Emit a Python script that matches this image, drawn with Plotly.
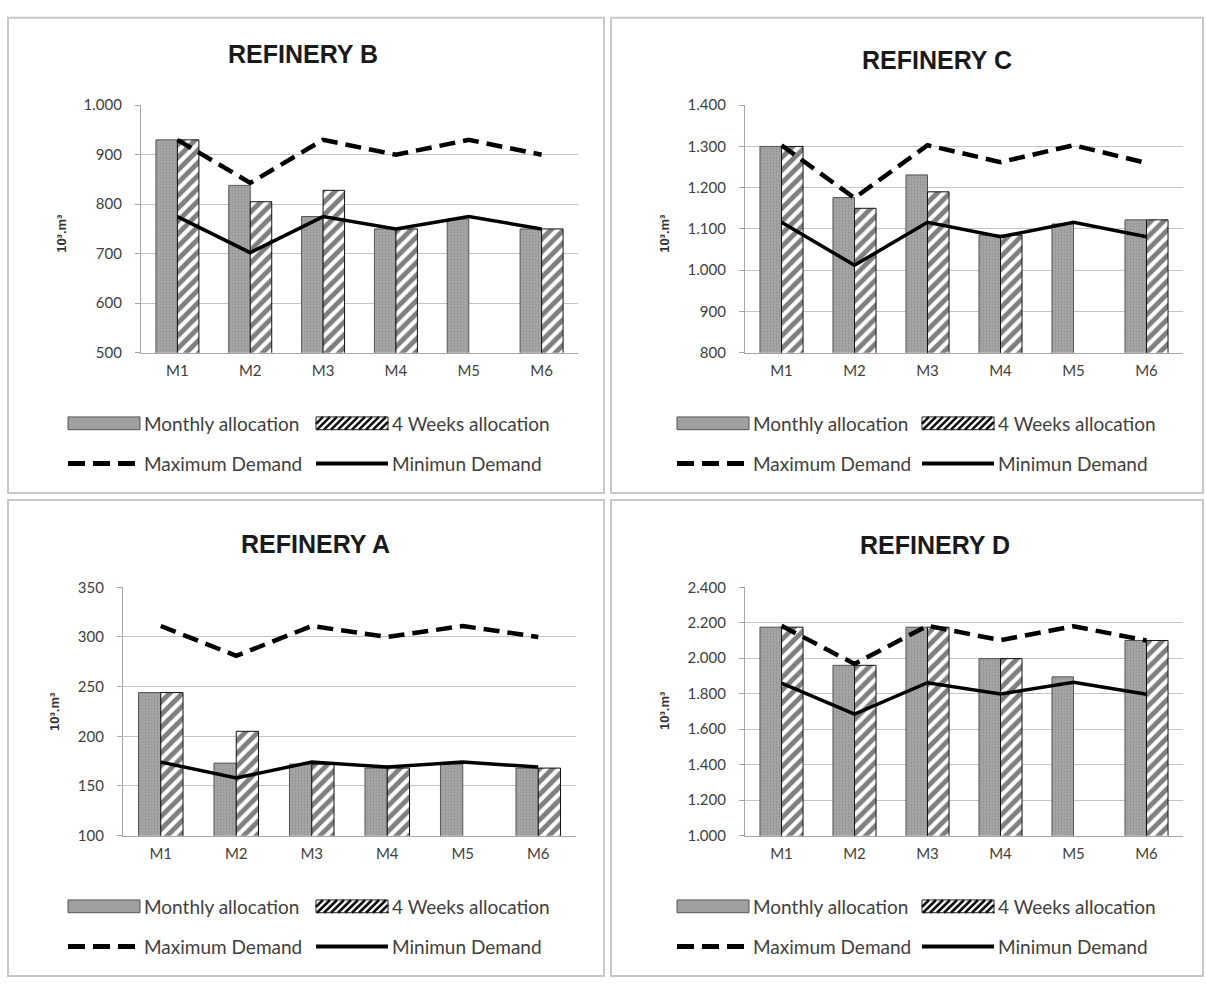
import plotly.graph_objects as go

W, H = 1206, 986

months = ["M1", "M2", "M3", "M4", "M5", "M6"]

titles = ["REFINERY B", "REFINERY C", "REFINERY A", "REFINERY D"]

# Refinery B
b_monthly = [930, 838, 775, 750, 770, 750]
b_weeks = [930, 805, 828, 750, None, 750]
b_max = [930, 843, 930, 900, 930, 900]
b_min = [775, 702, 775, 750, 775, 750]

# Refinery C
c_monthly = [1300, 1176, 1231, 1085, 1112, 1122]
c_weeks = [1300, 1150, 1190, 1085, None, 1122]
c_max = [1303, 1175, 1303, 1262, 1303, 1260]
c_min = [1116, 1012, 1116, 1081, 1116, 1081]

# Refinery A
a_monthly = [244, 173, 172, 168, 172, 168]
a_weeks = [244, 205, 172, 168, None, 168]
a_max = [311, 281, 311, 300, 311, 300]
a_min = [174, 158, 174, 169, 174, 169]

# Refinery D
d_monthly = [2175, 1960, 2175, 1998, 1895, 2100]
d_weeks = [2175, 1960, 2175, 1998, None, 2100]
d_max = [2183, 1968, 2183, 2102, 2180, 2100]
d_min = [1860, 1685, 1862, 1798, 1865, 1797]

y_ranges = [(500, 1000), (800, 1400), (100, 350), (1000, 2400)]
y_steps = [100, 100, 50, 200]

series = [
    (b_monthly, b_weeks, b_max, b_min),
    (c_monthly, c_weeks, c_max, c_min),
    (a_monthly, a_weeks, a_max, a_min),
    (d_monthly, d_weeks, d_max, d_min),
]

legend_names = ["Monthly allocation", "4 Weeks allocation",
                "Maximum Demand", "Minimun Demand"]


def px(x):
    return x / W


def py(y):
    return 1 - y / H


# plot-area boxes in pixels: (left, right, top, bottom)
boxes = [
    (141, 578, 97, 349),
    (745, 1183, 97, 349),
    (123, 576, 588, 841),
    (745, 1183, 588, 841),
]
# outer frame of each panel
frames = [(8, 604, 8, 492), (611, 1203, 8, 492),
          (8, 604, 499, 984), (611, 1203, 499, 984)]
title_pos = [(303, 45), (937, 51), (315, 544), (935, 545)]
ytitle_pos = [(62, 228), (665, 228), (55, 715), (665, 714)]
legend_rows = [(421, 462), (421, 462), (913, 954), (913, 954)]
legend_cols = [(68, 316), (677, 922), (68, 316), (677, 922)]

TICK_FONT = dict(family="Lato, Open Sans, sans-serif", size=15, color="#404040")
GRID = "#c4c4c4"
AXIS = "#a6a6a6"

fig = go.Figure()
shapes = []
annotations = []

for i, (monthly, weeks, dmax, dmin) in enumerate(series):
    n = "" if i == 0 else str(i + 1)
    xa, ya = "x" + n, "y" + n

    fig.add_trace(go.Bar(
        x=months, y=monthly, name=legend_names[0], xaxis=xa, yaxis=ya,
        marker=dict(color="#a0a0a0",
                    line=dict(color="#555555", width=1),
                    pattern=dict(shape=".", fgcolor="#777777",
                                 bgcolor="#a8a8a8", size=3, solidity=0.35)),
        showlegend=False,
    ))
    fig.add_trace(go.Bar(
        x=months, y=weeks, name=legend_names[1], xaxis=xa, yaxis=ya,
        marker=dict(color="white",
                    line=dict(color="#111111", width=1),
                    pattern=dict(shape="/", fgcolor="#000000",
                                 bgcolor="white", size=9, solidity=0.55)),
        showlegend=False,
    ))
    fig.add_trace(go.Scatter(
        x=months, y=dmax, name=legend_names[2], xaxis=xa, yaxis=ya,
        mode="lines", line=dict(color="black", width=4.5, dash="16px,8px"),
        showlegend=False,
    ))
    fig.add_trace(go.Scatter(
        x=months, y=dmin, name=legend_names[3], xaxis=xa, yaxis=ya,
        mode="lines", line=dict(color="black", width=3.5),
        showlegend=False,
    ))

    l, r, t, b = boxes[i]
    lo, hi = y_ranges[i]
    fig.layout["xaxis" + n] = dict(
        domain=[px(l), px(r)], anchor=ya, type="category",
        showgrid=False, showline=True, linecolor=AXIS, linewidth=1.3,
        ticks="", tickfont=TICK_FONT, ticklabelstandoff=4,
        zeroline=False, fixedrange=True,
    )
    fig.layout["yaxis" + n] = dict(
        domain=[py(b), py(t)], anchor=xa, range=[lo, hi],
        tick0=lo, dtick=y_steps[i], tickformat=",d",
        showgrid=True, gridcolor=GRID, gridwidth=1.3,
        showline=True, linecolor=AXIS, linewidth=1.3,
        ticks="outside", ticklen=5, tickcolor=AXIS,
        tickfont=TICK_FONT, ticklabelstandoff=10,
        zeroline=False, fixedrange=True,
    )

    # panel frame
    fl, fr, ft, fb = frames[i]
    shapes.append(dict(type="rect", xref="paper", yref="paper",
                       x0=px(fl), x1=px(fr), y0=py(fb), y1=py(ft),
                       line=dict(color="#c8c8c8", width=2), layer="below"))

    # title
    tx, ty = title_pos[i]
    annotations.append(dict(
        text="<b>%s</b>" % titles[i], xref="paper", yref="paper",
        x=px(tx), y=py(ty), xanchor="center", yanchor="middle",
        showarrow=False,
        font=dict(family="Liberation Sans, Arial, sans-serif", size=25,
                  color="#1a1a1a")))

    # y axis title
    yx, yy = ytitle_pos[i]
    annotations.append(dict(
        text="<b>10³.m³</b>", xref="paper", yref="paper",
        x=px(yx), y=py(yy), xanchor="center", yanchor="middle",
        textangle=-90, showarrow=False,
        font=dict(family="Liberation Sans, Arial, sans-serif", size=13,
                  color="#333333")))

    # legend
    r1, r2 = legend_rows[i]
    c1, c2 = legend_cols[i]
    sw, sh = 72, 13
    legend_font = dict(family="Lato, Open Sans, sans-serif", size=19,
                       color="#404040")

    # monthly allocation swatch
    shapes.append(dict(type="rect", xref="paper", yref="paper",
                       x0=px(c1), x1=px(c1 + sw),
                       y0=py(r1 + sh / 2), y1=py(r1 - sh / 2),
                       fillcolor="#a0a0a0",
                       line=dict(color="#555555", width=1)))
    # 4 weeks allocation swatch (hatched)
    x0s, x1s = c2, c2 + sw
    y_top, y_bot = r1 - sh / 2, r1 + sh / 2
    shapes.append(dict(type="rect", xref="paper", yref="paper",
                       x0=px(x0s), x1=px(x1s), y0=py(y_bot), y1=py(y_top),
                       fillcolor="white",
                       line=dict(color="#222222", width=1)))
    step = 7
    xs = x0s - sh
    while xs < x1s:
        xa0 = max(xs, x0s)
        xb0 = min(xs + sh, x1s)
        if xa0 < xb0:
            shapes.append(dict(
                type="line", xref="paper", yref="paper",
                x0=px(xa0), y0=py(y_bot - (xa0 - xs)),
                x1=px(xb0), y1=py(y_bot - (xb0 - xs)),
                line=dict(color="#111111", width=2.6)))
        xs += step
    # demand line swatches
    shapes.append(dict(type="line", xref="paper", yref="paper",
                       x0=px(c1), x1=px(c1 + sw), y0=py(r2), y1=py(r2),
                       line=dict(color="black", width=5, dash="17px,8px")))
    shapes.append(dict(type="line", xref="paper", yref="paper",
                       x0=px(c2), x1=px(c2 + sw), y0=py(r2), y1=py(r2),
                       line=dict(color="black", width=4)))

    for (cx, cy, label) in [(c1, r1, legend_names[0]), (c2, r1, legend_names[1]),
                            (c1, r2, legend_names[2]), (c2, r2, legend_names[3])]:
        annotations.append(dict(
            text=label, xref="paper", yref="paper",
            x=px(cx + sw + 2), y=py(cy), xanchor="left", yanchor="middle",
            showarrow=False, font=legend_font))

fig.update_layout(
    width=W, height=H,
    margin=dict(l=0, r=0, t=0, b=0),
    paper_bgcolor="white", plot_bgcolor="white",
    barmode="group", bargap=0.41, bargroupgap=0,
    separators=",.",
    showlegend=False,
    shapes=shapes, annotations=annotations,
)

fig.write_html("out.html")
